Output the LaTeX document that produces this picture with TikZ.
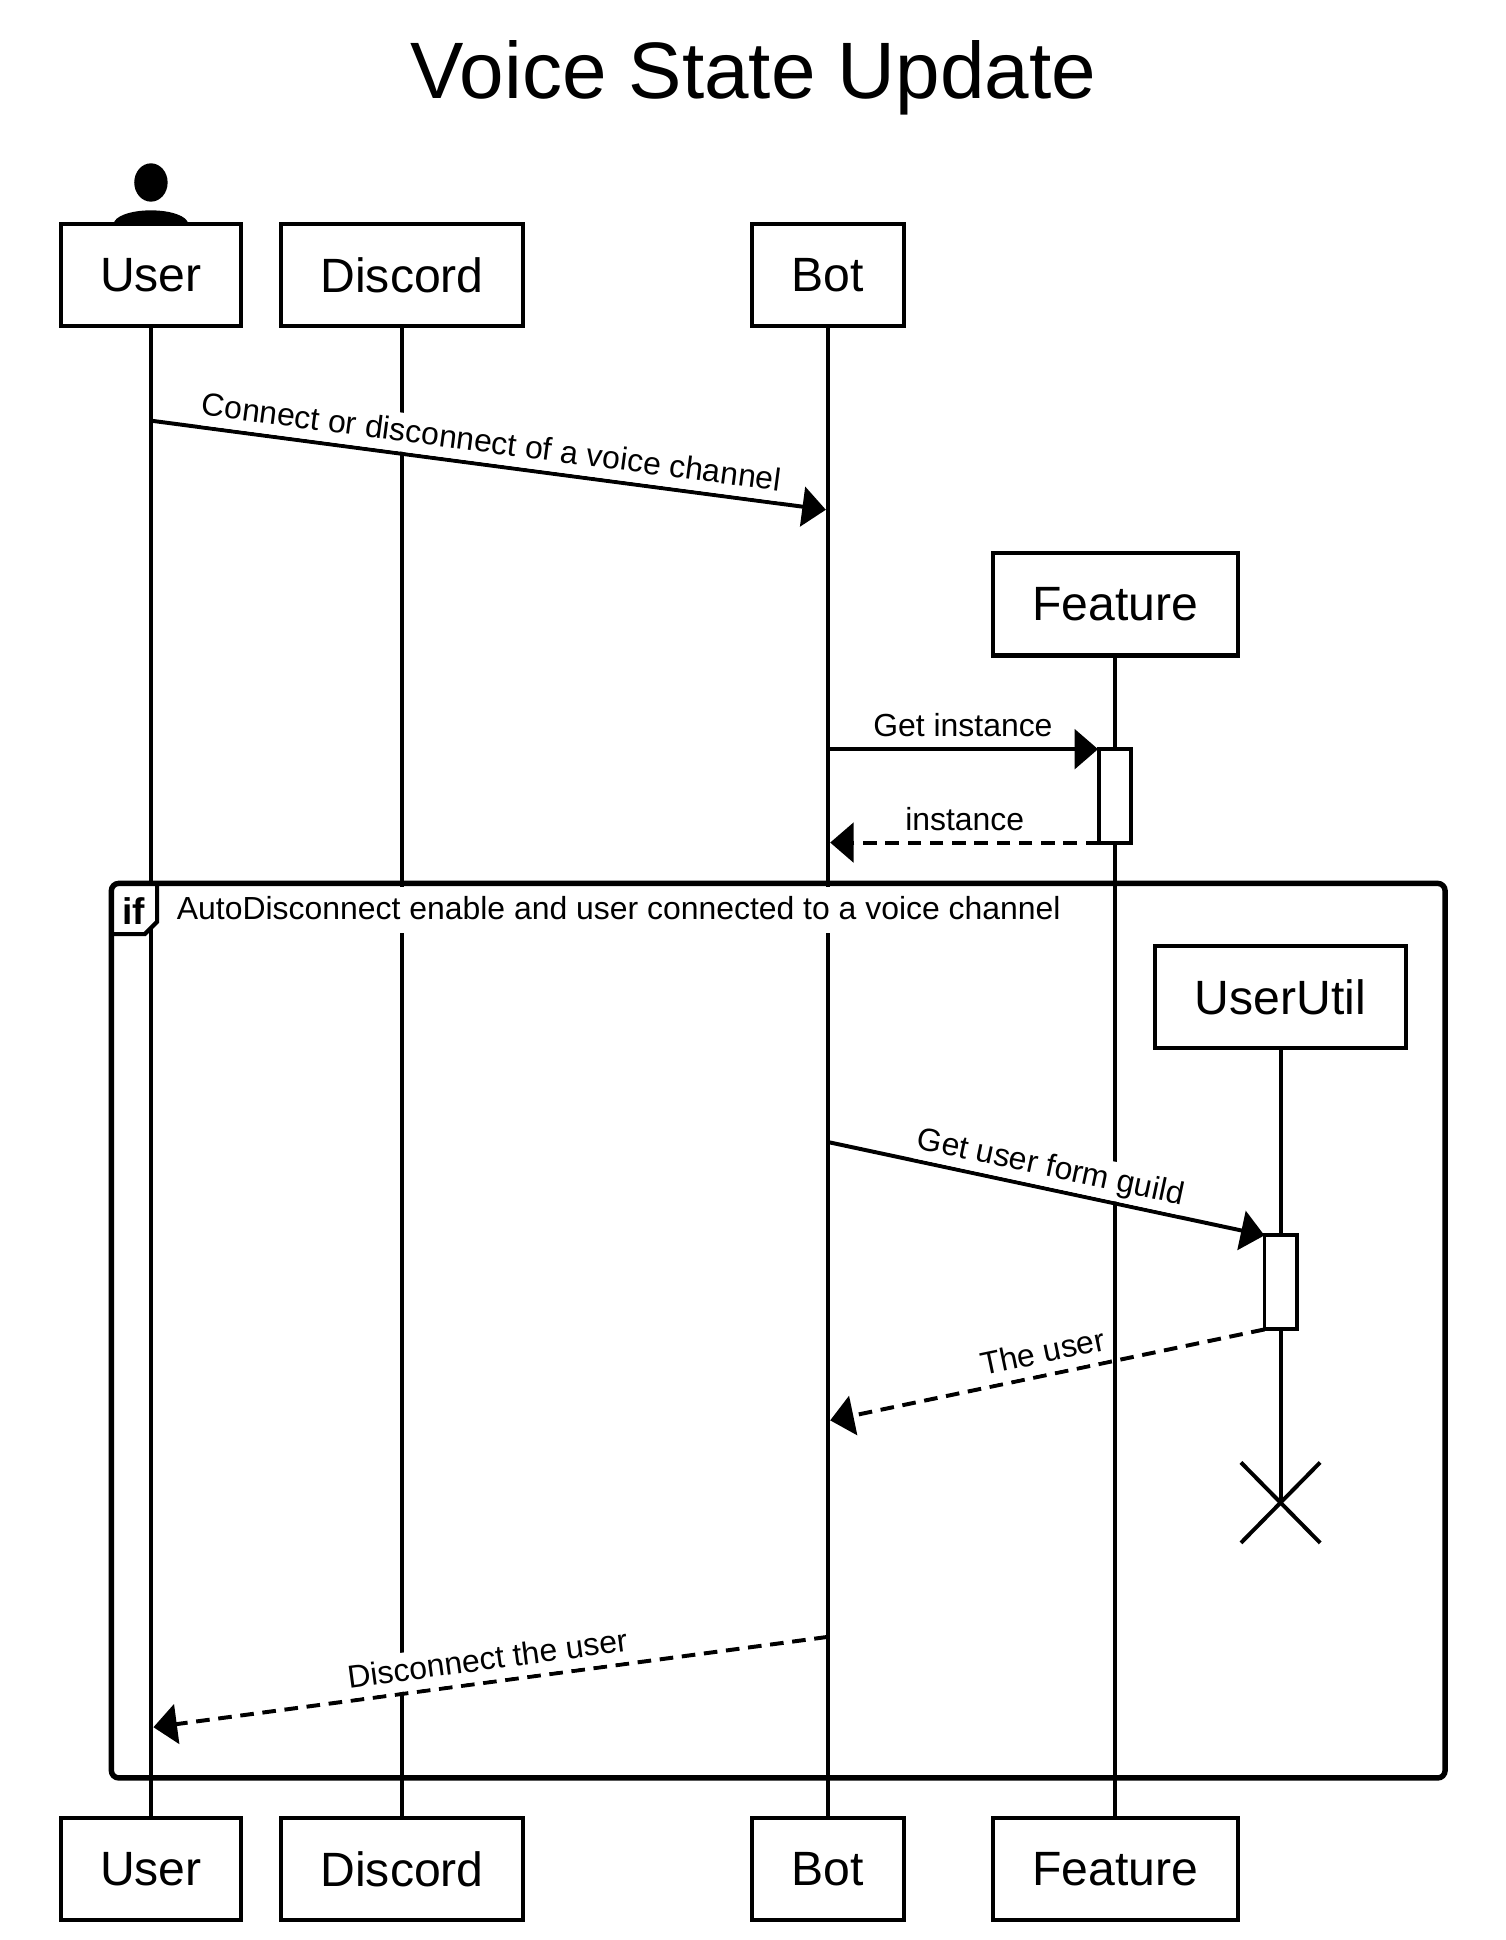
\documentclass[tikz,border=0pt]{standalone}
\usepackage{fontspec}
\setmainfont{Liberation Sans}
\usetikzlibrary{arrows.meta, positioning}
\def\TitleFont{\fontsize{64.7}{70}\selectfont}
\def\BoxFont{\fontsize{38.9}{44}\selectfont}
\def\MsgFont{\fontsize{25.8}{30}\selectfont}
\def\TagFont{\fontsize{30}{34}\selectfont\bfseries}

\begin{document}
\begin{tikzpicture} [
    x=1pt, y=-1pt,
    N/.style = {draw, fill=white, line width=3.4pt, minimum height=82.5pt, inner sep=0pt, outer sep=0pt, font=\BoxFont},
    life/.style = {draw, line width=3.2pt},
    act/.style = {draw, fill=white, line width=3.2pt, minimum width=26pt, minimum height=76pt, inner sep=0pt, outer sep=0pt},
    msg/.style = {draw, line width=3.2pt, -{Triangle[length=19pt,width=32pt]}},
    ret/.style = {msg, dash pattern=on 11pt off 7pt},
    lbl/.style = {fill=white, font=\MsgFont, text depth=4pt, inner xsep=1pt, inner ysep=4.3pt, outer sep=0pt}
    ]
  \useasboundingbox (0,0) rectangle (1217.2,1568);

  %%% TITLE %%%
  \node[font=\TitleFont, inner sep=0pt] (title) at (609,63) {Voice State Update};

  %%% ACTOR %%%
  \coordinate (actor) at (122,181);
  \fill (actor) ellipse [x radius=30pt, y radius=11pt];
  \fill (122,147.5) ellipse [x radius=13.5pt, y radius=15.5pt];

  %%% TOP ROW %%%
  \node[N, minimum width=146pt] (user) at (122,222.5) {User};
  \node[N, minimum width=196pt] (discord) [right =32pt of user] {Discord};
  \node[N, minimum width=123pt] (bot) [right =184.5pt of discord] {Bot};
  \node[N, minimum width=198pt] (feature) at (901.5,488.5) {Feature};
  \node[N, minimum width=203pt] (userutil) at (1035,806) {UserUtil};

  %%% BOTTOM ROW %%%
  \node[N, minimum width=146pt] (userB) at (122,1510.5) {User};
  \node[N, minimum width=196pt] (discordB) [right =32pt of userB] {Discord};
  \node[N, minimum width=123pt] (botB) [right =184.5pt of discordB] {Bot};
  \node[N, minimum width=198pt] (featureB) [right =72pt of botB] {Feature};

  %%% DESTROY %%%
  \coordinate (kill) at (1035,1214.5);
  \coordinate (killNW) at (1003,1182);
  \coordinate (killNE) at (1067,1182);
  \coordinate (killSW) at (1003,1247);
  \coordinate (killSE) at (1067,1247);

  % Lifelines
  \path[life] (user) -- (userB);
  \path[life] (discord) -- (discordB);
  \path[life] (bot) -- (botB);
  \path[life] (feature) -- (featureB);
  \path[life] (userutil) -- (kill);
  \path[life] (killNW) -- (killSE);
  \path[life] (killNE) -- (killSW);

  % Activations
  \node[act] (featureAct) at (901.5,643) {};
  \node[act] (userutilAct) at (1035,1036.5) {};

  %%% IF FRAME %%%
  \fill[white] (90,714) -- (127,714) -- (127,745) -- (117,755) -- (90,755) -- cycle;
  \node[draw, line width=4.4pt, rounded corners=6pt, minimum width=1078pt, minimum height=723pt, inner sep=0pt, outer sep=0pt] (frame) at (629,1075.5) {};
  \draw[line width=3.4pt] (frame.north west -| 127,0) -- (127,745) -- (117,755) -- (90,755);
  \node[font=\TagFont, inner sep=0pt] (iftag) at (108,736) {if};
  \node[lbl, anchor=west, inner sep=2pt, minimum height=37pt] (cond) at (141,735.5) {AutoDisconnect enable and user connected to a voice channel};

  % Messages
  \coordinate (connectA) at (user |- 0,340);
  \coordinate (connectB) at (667.5,412);
  \draw[msg] (connectA) -- node[lbl, sloped, above=1.7pt] (connectL) {Connect or disconnect of a voice channel} (connectB);

  \coordinate (instanceA) at (bot |- 0,605.5);
  \coordinate (instanceC) at (887.5,605.5);
  \draw[msg] (instanceA) -- node[lbl, above=1.7pt] (instanceL) {Get instance} (instanceC);
  \coordinate (instanceB) at (671,681);
  \draw[ret] (featureAct.south west) -- node[lbl, above=1.7pt] (instanceR) {instance} (instanceB);

  \coordinate (guildA) at (bot |- 0,923);
  \draw[msg] (guildA) -- node[lbl, sloped, above=1.7pt] (guildL) {Get user form guild} (userutilAct.north west);
  \coordinate (guildB) at (671,1148);
  \draw[ret] (userutilAct.south west) -- node[lbl, sloped, above=1.7pt] (guildR) {The user} (guildB);

  \coordinate (leaveA) at (bot |- 0,1323);
  \coordinate (leaveB) at (124,1396);
  \draw[ret] (leaveA) -- node[lbl, sloped, above=1.7pt] (leaveL) {Disconnect the user} (leaveB);

\end{tikzpicture}
\end{document}
